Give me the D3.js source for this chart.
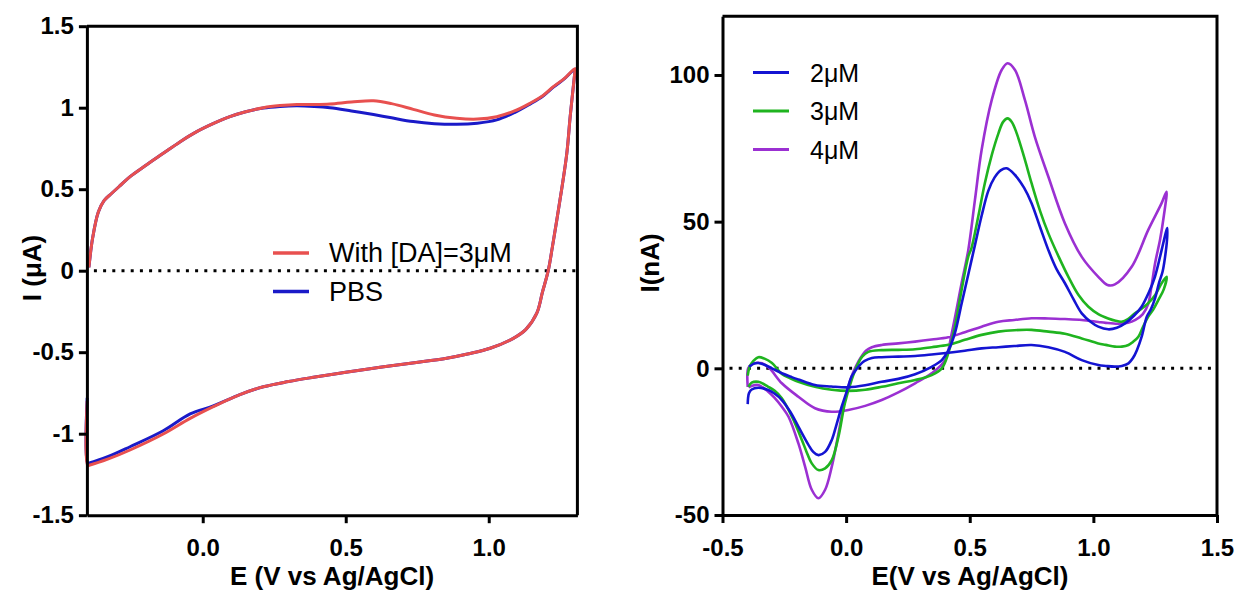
<!DOCTYPE html>
<html>
<head>
<meta charset="utf-8">
<script src="https://cdn.jsdelivr.net/npm/d3@7"></script>
<style>
  html, body { margin: 0; padding: 0; background: #fff; }
  svg { display: block; }
  text { font-family: "Liberation Sans", Arial, sans-serif; fill: #000; }
</style>
</head>
<body>
<svg id="chart" width="1235" height="591"></svg>
<script>
// ---------------- DATA ----------------
// Left panel: CV of electrode, I in µA vs E (V vs Ag/AgCl)
const leftXTicks = [0.0, 0.5, 1.0];
const leftYTicks = [-1.5, -1, -0.5, 0, 0.5, 1, 1.5];
const leftSeriesNames = ["With [DA]=3μM", "PBS"];

const cvPBS = [
  [-0.398,0.02],[-0.385,0.2],[-0.365,0.36],[-0.345,0.43],[-0.318,0.475],[-0.29,0.52],[-0.254,0.577],
  [-0.2,0.645],[-0.138,0.72],[-0.08,0.79],[-0.021,0.853],[0.04,0.905],[0.095,0.945],[0.15,0.975],
  [0.212,0.998],[0.27,1.008],[0.329,1.012],[0.39,1.008],[0.445,1.0],[0.52,0.98],[0.597,0.958],
  [0.66,0.938],[0.736,0.915],[0.81,0.902],[0.888,0.898],[0.96,0.905],[1.028,0.925],[1.09,0.97],
  [1.144,1.022],[1.19,1.072],[1.226,1.126],[1.265,1.178],[1.302,1.236],
  [1.30,1.2],[1.285,0.95],[1.273,0.72],[1.255,0.5],[1.238,0.311],[1.222,0.14],[1.208,0.0],
  [1.188,-0.13],[1.168,-0.261],[1.13,-0.36],[1.086,-0.415],[1.005,-0.476],[0.93,-0.51],[0.853,-0.537],
  [0.74,-0.565],[0.62,-0.593],[0.5,-0.623],[0.387,-0.654],[0.3,-0.68],[0.212,-0.712],[0.13,-0.76],
  [0.037,-0.83],[-0.044,-0.879],[-0.138,-0.982],[-0.254,-1.08],[-0.33,-1.14],[-0.394,-1.178],
  [-0.402,-1.18],[-0.404,-0.78]
];
const cvDA = [
  [-0.398,0.02],[-0.385,0.2],[-0.365,0.36],[-0.345,0.43],[-0.318,0.475],[-0.29,0.52],[-0.254,0.577],
  [-0.2,0.645],[-0.138,0.72],[-0.08,0.79],[-0.021,0.853],[0.04,0.905],[0.095,0.945],[0.15,0.975],
  [0.212,1.0],[0.27,1.013],[0.329,1.02],[0.39,1.02],[0.445,1.023],[0.52,1.035],[0.597,1.043],
  [0.66,1.025],[0.736,0.99],[0.81,0.955],[0.888,0.935],[0.96,0.93],[1.028,0.945],[1.09,0.98],
  [1.144,1.027],[1.19,1.075],[1.226,1.129],[1.265,1.18],[1.302,1.24],
  [1.30,1.2],[1.285,0.95],[1.273,0.72],[1.255,0.5],[1.238,0.311],[1.222,0.14],[1.208,0.0],
  [1.188,-0.13],[1.168,-0.261],[1.13,-0.36],[1.086,-0.415],[1.005,-0.476],[0.93,-0.51],[0.853,-0.537],
  [0.74,-0.565],[0.62,-0.593],[0.5,-0.623],[0.387,-0.654],[0.3,-0.68],[0.212,-0.712],[0.13,-0.76],
  [0.037,-0.834],[-0.044,-0.906],[-0.138,-1.002],[-0.254,-1.10],[-0.33,-1.155],[-0.394,-1.192],
  [-0.402,-1.195],[-0.404,-0.80]
];

// Right panel: CVs at different DA concentrations, I in nA
const rightXTicks = [-0.5, 0.0, 0.5, 1.0, 1.5];
const rightYTicks = [-50, 0, 50, 100];
const rightSeriesNames = ["2μM", "3μM", "4μM"];

const cv2uM = [
  [-0.392,0.5],[-0.375,1.5],[-0.355,1.8],[-0.33,1.2],[-0.30,0],[-0.26,-1.7],[-0.22,-3.0],[-0.193,-3.8],
  [-0.126,-5.7],[-0.06,-6.2],[0.009,-6.5],[0.077,-5.8],[0.144,-4.6],[0.211,-3.6],[0.279,-2.0],[0.346,0.5],
  [0.387,2.8],[0.413,6.0],[0.44,12],[0.467,22],[0.494,32],[0.521,42],[0.548,52],[0.575,60.5],
  [0.60,65],[0.625,67.5],[0.649,68.2],[0.683,65.9],[0.72,61.5],[0.75,56.3],[0.785,48],[0.818,40.3],
  [0.85,34],[0.885,29],[0.92,23.5],[0.953,18.75],[0.99,15.8],[1.02,14.2],[1.06,13.3],[1.095,13.8],
  [1.128,15.3],[1.165,18],[1.195,21],[1.225,26],[1.249,31.2],[1.276,40.3],[1.294,46.6],[1.299,47.8],
  [1.298,44],[1.29,38],[1.28,33],[1.265,29],[1.25,24],[1.232,20],[1.216,17.6],[1.196,11],[1.176,6.2],
  [1.16,3.5],[1.142,1.7],[1.115,0.8],[1.087,0.57],[1.05,0.8],[1.02,1.1],[0.953,2.8],[0.885,5.6],
  [0.818,7.2],[0.75,7.95],[0.68,7.6],[0.616,7.2],[0.548,6.8],[0.48,6.0],[0.413,5.3],[0.346,4.7],
  [0.279,4.2],[0.211,4.0],[0.144,3.8],[0.104,3.5],[0.075,2.5],[0.062,1.7],[0.04,-0.5],[0.022,-2.8],
  [0.002,-8],[-0.018,-13.1],[-0.04,-19.5],[-0.058,-24.4],[-0.085,-28.5],[-0.112,-29.6],[-0.133,-28.5],
  [-0.153,-26],[-0.193,-19.9],[-0.226,-14.8],[-0.26,-10.8],[-0.29,-8.6],[-0.315,-7.4],[-0.355,-6.6],
  [-0.382,-7.2],[-0.393,-8.5],[-0.398,-12.2]
];
const cv3uM = [
  [-0.398,-2.5],[-0.39,0.5],[-0.375,2.5],[-0.355,3.8],[-0.33,3.3],[-0.30,1.8],[-0.26,-1.9],[-0.226,-3.4],
  [-0.193,-4.6],[-0.126,-6.3],[-0.058,-7.3],[0.009,-7.7],[0.077,-7.3],[0.144,-6.3],[0.211,-5.1],
  [0.279,-4.0],[0.346,-2.3],[0.387,0],[0.413,5.1],[0.44,14.2],[0.467,26.7],[0.494,38.1],[0.507,41],
  [0.535,52],[0.561,63.1],[0.59,73],[0.616,80.1],[0.635,84],[0.653,85.2],[0.67,84],[0.69,80.1],
  [0.72,72],[0.75,63.1],[0.785,53.5],[0.818,46],[0.86,38],[0.899,31.2],[0.94,25],[0.98,21],[1.02,18.5],
  [1.06,17],[1.09,16.2],[1.114,15.9],[1.14,16.8],[1.168,18.75],[1.195,20.3],[1.222,22.2],[1.25,25],
  [1.276,29],[1.296,31.2],
  [1.285,27],[1.263,23.3],[1.242,20],[1.222,17.6],[1.2,14],[1.182,10.8],[1.16,9],[1.142,7.95],[1.115,7.4],
  [1.087,7.4],[1.05,8.0],[1.02,8.5],[0.953,10.2],[0.885,11.8],[0.818,12.5],[0.75,13.1],[0.68,13],
  [0.616,12.5],[0.548,11.4],[0.48,9.7],[0.413,8.0],[0.346,7.2],[0.279,6.5],[0.211,6.3],[0.144,6.2],
  [0.09,5.6],[0.065,4.0],[0.049,1.7],[0.035,-1],[0.022,-4.0],[-0.005,-11.9],[-0.031,-23.3],[-0.058,-31.3],
  [-0.085,-34.1],[-0.112,-34.7],[-0.139,-32.4],[-0.16,-28.5],[-0.179,-24.4],[-0.219,-16.5],[-0.26,-10.2],
  [-0.29,-7.6],[-0.315,-6.3],[-0.355,-4.6],[-0.382,-4.9],[-0.395,-6.3]
];
const cv4uM = [
  [-0.398,-6.3],[-0.396,0],[-0.38,1.5],[-0.36,1.9],[-0.34,1.7],[-0.31,0],[-0.26,-5.1],[-0.193,-9.7],
  [-0.126,-13.6],[-0.058,-14.8],[0.009,-14.2],[0.077,-12.8],[0.144,-10.8],[0.211,-8.2],[0.279,-5.1],
  [0.346,-1.7],[0.40,2.8],[0.427,11.9],[0.467,29],[0.494,40.3],[0.521,57.4],[0.548,74.4],[0.589,91.5],
  [0.629,101.7],[0.653,104],[0.683,101.7],[0.723,91.5],[0.763,79],[0.818,65.3],[0.885,49.4],[0.953,38],
  [1.02,31.2],[1.057,28.4],[1.087,28.6],[1.155,34.6],[1.222,47.2],[1.276,56.3],[1.296,60.2],
  [1.285,52],[1.27,44],[1.25,36],[1.235,28],[1.222,22],[1.2,18.5],[1.17,16.5],[1.14,15.5],[1.1,15.2],
  [1.05,15.5],[1.02,15.8],[0.953,16.5],[0.885,16.8],[0.818,17.0],[0.75,17.05],[0.68,16.5],[0.616,15.9],
  [0.548,14.2],[0.48,12.3],[0.413,10.6],[0.346,9.8],[0.279,9.1],[0.211,8.5],[0.144,7.95],[0.104,7.2],
  [0.08,6],[0.062,4.0],[0.04,0.8],[0.022,-2.8],[-0.005,-10.8],[-0.031,-22.2],[-0.058,-33.5],[-0.085,-41.4],
  [-0.112,-44.3],[-0.139,-41.4],[-0.166,-33.5],[-0.193,-25.6],[-0.233,-16.5],[-0.26,-13.1],[-0.29,-10],
  [-0.315,-7.95],[-0.355,-5.7],[-0.382,-6.0],[-0.395,-6.5]
];

// ---------------- DRAW ----------------
const svg = d3.select("#chart");
const FONT_TICK = 24, FONT_TITLE = 26;
const hyph = f => d => f(d).replace("\u2212", "-");

function panel(opts) {
  const g = svg.append("g");
  const x = d3.scaleLinear().domain(opts.xDomain).range(opts.xRange);
  const y = d3.scaleLinear().domain(opts.yDomain).range(opts.yRange);

  // zero dotted line
  g.append("line")
    .attr("x1", opts.xRange[0] + 7).attr("x2", opts.xRange[1])
    .attr("y1", y(0)).attr("y2", y(0))
    .attr("stroke", "#000").attr("stroke-width", 3)
    .attr("stroke-dasharray", "3,6.2");

  const line = d3.line().x(d => x(d[0])).y(d => y(d[1])).curve(d3.curveCatmullRom.alpha(0.5));
  opts.series.forEach(s => {
    g.append("path").datum(s.data)
      .attr("fill", "none").attr("stroke", s.color)
      .attr("stroke-width", s.width).attr("stroke-linejoin", "round")
      .attr("d", line);
  });

  // frame (top/right)
  g.append("path")
    .attr("d", `M${opts.xRange[0]},${opts.yRange[1]}H${opts.xRange[1]}V${opts.yRange[0]}`)
    .attr("fill", "none").attr("stroke", "#000").attr("stroke-width", 3);

  const xa = g.append("g").attr("transform", `translate(0,${opts.yRange[0]})`)
    .call(d3.axisBottom(x).tickValues(opts.xTicks).tickSize(8).tickSizeOuter(0).tickPadding(6)
      .tickFormat(hyph(d3.format(".1f"))));
  const ya = g.append("g").attr("transform", `translate(${opts.xRange[0]},0)`)
    .call(d3.axisLeft(y).tickValues(opts.yTicks).tickSize(8).tickSizeOuter(0).tickPadding(5)
      .tickFormat(hyph(d3.format(""))));
  [xa, ya].forEach(a => {
    a.select(".domain").attr("stroke", "#000").attr("stroke-width", 3);
    a.selectAll(".tick line").attr("stroke", "#000").attr("stroke-width", 3);
    a.selectAll(".tick text").attr("font-size", FONT_TICK).attr("font-weight", "bold")
      .attr("font-family", "'Liberation Sans', Arial, sans-serif").attr("fill", "#000");
  });
  xa.selectAll(".tick text").attr("dy", null).attr("y", 41);

  // titles
  g.append("text").attr("x", opts.xTitleX).attr("y", 585)
    .attr("text-anchor", "middle").attr("font-size", FONT_TITLE).attr("font-weight", "bold")
    .text(opts.xTitle);
  g.append("text")
    .attr("transform", `translate(${opts.yTitleX},${opts.yTitleY}) rotate(-90)`)
    .attr("text-anchor", "middle").attr("font-size", FONT_TITLE).attr("font-weight", "bold")
    .text(opts.yTitle);

  // legend
  opts.legend.forEach((l, i) => {
    const ly = opts.legY + i * opts.legDy;
    g.append("line").attr("x1", opts.legX).attr("x2", opts.legX + 36)
      .attr("y1", ly).attr("y2", ly).attr("stroke", l.color).attr("stroke-width", opts.legW);
    g.append("text").attr("x", opts.legX + opts.legTextDx).attr("y", ly + 9)
      .attr("font-size", opts.legFont).text(l.name);
  });
}

const RED = "#e8504f", BLUE_L = "#1a1ac8";
panel({
  xDomain: [-0.405, 1.31], xRange: [86.9, 577.4],
  yDomain: [-1.5, 1.5], yRange: [515.2, 26.2],
  xTicks: leftXTicks, yTicks: leftYTicks,
  series: [
    { data: cvPBS, color: BLUE_L, width: 3 },
    { data: cvDA, color: RED, width: 3 }
  ],
  xTitle: "E (V vs Ag/AgCl)", xTitleX: 332,
  yTitle: "I (μA)", yTitleX: 41, yTitleY: 268,
  legend: [{ name: leftSeriesNames[0], color: RED }, { name: leftSeriesNames[1], color: BLUE_L }],
  legX: 273, legY: 253, legDy: 38.5, legTextDx: 56, legW: 3.5, legFont: 27
});

const BLUE_R = "#1414d2", GREEN = "#1fb41f", PURPLE = "#9b30d2";
panel({
  xDomain: [-0.5, 1.5], xRange: [722.5, 1217],
  yDomain: [-50, 120], yRange: [515, 16.3],
  xTicks: rightXTicks, yTicks: rightYTicks,
  series: [
    { data: cv4uM, color: PURPLE, width: 2.6 },
    { data: cv3uM, color: GREEN, width: 2.6 },
    { data: cv2uM, color: BLUE_R, width: 2.6 }
  ],
  xTitle: "E(V vs Ag/AgCl)", xTitleX: 970,
  yTitle: "I(nA)", yTitleX: 659, yTitleY: 263,
  legend: [{ name: rightSeriesNames[0], color: BLUE_R }, { name: rightSeriesNames[1], color: GREEN },
           { name: rightSeriesNames[2], color: PURPLE }],
  legX: 753, legY: 72.5, legDy: 38.5, legTextDx: 57, legW: 3, legFont: 25
});
</script>
</body>
</html>
